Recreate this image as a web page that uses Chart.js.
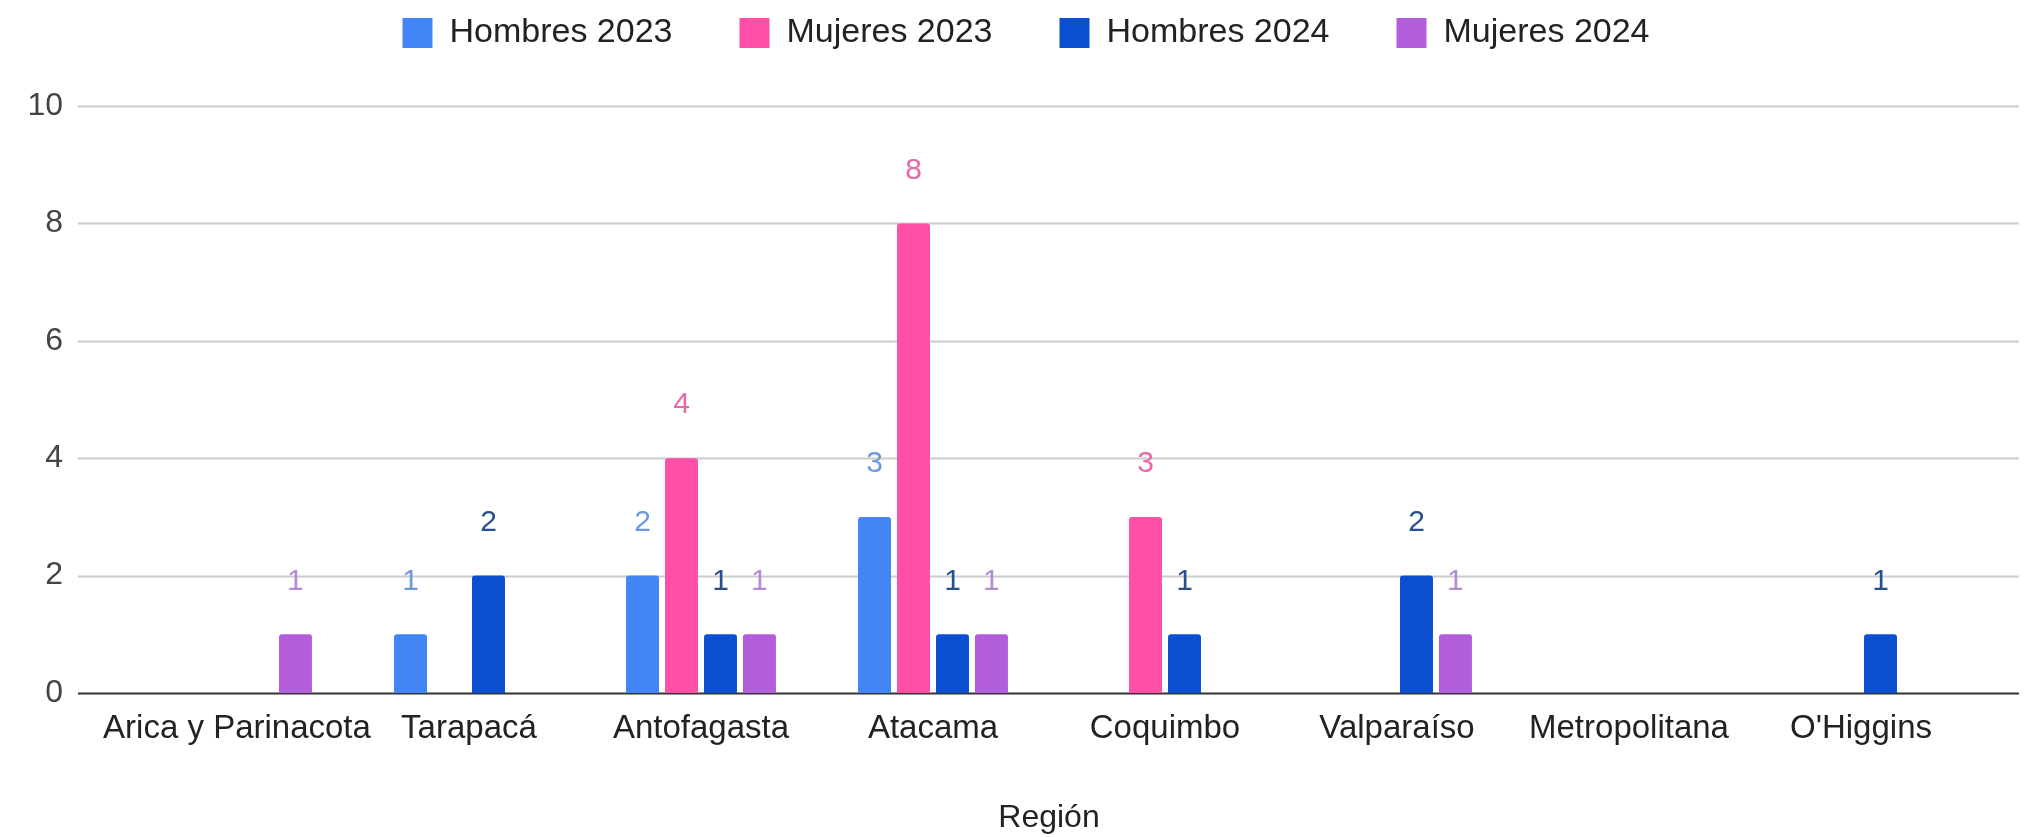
<!DOCTYPE html>
<html>
<head>
<meta charset="utf-8">
<title>Región</title>
<script src="https://cdn.jsdelivr.net/npm/chart.js@4.4.1/dist/chart.umd.min.js"></script>
<style>
    html, body { margin: 0; padding: 0; background: #ffffff; }
    #wrap { width: 2028px; height: 837px; position: relative; }
</style>
</head>
<body>
<div id="wrap"><canvas id="chart"></canvas></div>
<script>
// Data (null = no bar)
const regiones = ["Arica y Parinacota", "Tarapacá", "Antofagasta", "Atacama", "Coquimbo", "Valparaíso", "Metropolitana", "O'Higgins"];
const hombres2023 = [null, 1, 2, 3, null, null, null, null];
const mujeres2023 = [null, null, 4, 8, 3, null, null, null];
const hombres2024 = [null, 2, 1, 1, 1, 2, null, 1];
const mujeres2024 = [1, null, 1, 1, null, 1, null, null];
const yTicks = [0, 2, 4, 6, 8, 10];

Chart.defaults.font.family = "'Liberation Sans', Arial, sans-serif";

// Value labels above each bar
const barLabels = {
    id: "barLabels",
    afterDatasetsDraw(chart) {
        const ctx = chart.ctx;
        ctx.save();
        ctx.font = "30px 'Liberation Sans', Arial, sans-serif";
        ctx.textAlign = "center";
        ctx.textBaseline = "middle";
        chart.data.datasets.forEach((ds, i) => {
            const meta = chart.getDatasetMeta(i);
            meta.data.forEach((bar, j) => {
                const v = ds.data[j];
                if (v === null || v === undefined) return;
                ctx.fillStyle = ds.labelColor;
                ctx.fillText(String(v), bar.x, bar.y - 53);
            });
        });
        ctx.restore();
    }
};

// Horizontal gridlines that run a bit past the category area, like the original
const wideGrid = {
    id: "wideGrid",
    beforeDatasetsDraw(chart) {
        const ctx = chart.ctx;
        const area = chart.chartArea;
        const y = chart.scales.y;
        ctx.save();
        yTicks.forEach((t) => {
            const py = Math.round(y.getPixelForValue(t)) + 0.5;
            ctx.beginPath();
            ctx.moveTo(area.left - 43, py);
            ctx.lineTo(area.right + 42, py);
            ctx.lineWidth = 2;
            ctx.strokeStyle = t === 0 ? "#333333" : "#cccccc";
            ctx.stroke();
        });
        ctx.restore();
    }
};

// Extra room under the legend, and centre it a little to the right
const legendSpace = {
    id: "legendSpace",
    beforeInit(chart) {
        const fit = chart.legend.fit;
        chart.legend.fit = function () {
            fit.bind(chart.legend)();
            this.height += 46;
        };
    },
    afterLayout(chart) {
        chart.legend.left += 24;
        chart.legend.right += 24;
    }
};

new Chart(document.getElementById("chart"), {
    type: "bar",
    data: {
        labels: regiones,
        datasets: [
            { label: "Hombres 2023", data: hombres2023, backgroundColor: "#4285f4", labelColor: "#6d98e0" },
            { label: "Mujeres 2023", data: mujeres2023, backgroundColor: "#ff4fa7", labelColor: "#e868a8" },
            { label: "Hombres 2024", data: hombres2024, backgroundColor: "#0b4fd0", labelColor: "#27508e" },
            { label: "Mujeres 2024", data: mujeres2024, backgroundColor: "#b25edb", labelColor: "#b58bd8" }
        ]
    },
    options: {
        responsive: true,
        maintainAspectRatio: false,
        animation: false,
        datasets: {
            bar: {
                categoryPercentage: 0.672,
                barPercentage: 0.846,
                borderRadius: { topLeft: 3, topRight: 3 },
                borderSkipped: "bottom"
            }
        },
        layout: {
            padding: { left: 27, right: 51, top: -51, bottom: 0 }
        },
        plugins: {
            legend: {
                display: true,
                position: "top",
                labels: {
                    color: "#222222",
                    font: { size: 34 },
                    boxWidth: 30,
                    boxHeight: 30,
                    padding: 67
                }
            },
            tooltip: { enabled: false }
        },
        scales: {
            x: {
                offset: true,
                grid: { display: false, drawTicks: false },
                border: { display: false },
                ticks: {
                    color: "#222222",
                    font: { size: 33 },
                    padding: 16,
                    autoSkip: false,
                    maxRotation: 0,
                    minRotation: 0
                },
                title: {
                    display: true,
                    text: "Región",
                    color: "#222222",
                    font: { size: 32 },
                    padding: { top: 34, bottom: 0 }
                },
                afterFit(scale) {
                    // let the long first label hang over the y axis area
                    scale.paddingLeft = 0;
                    scale.paddingRight = 0;
                }
            },
            y: {
                min: 0,
                max: 10,
                grid: { display: false, drawTicks: false },
                border: { display: false },
                ticks: {
                    stepSize: 2,
                    color: "#444444",
                    font: { size: 32 },
                    padding: 58
                },
                afterFit(scale) {
                    scale.width = 94;
                }
            }
        }
    },
    plugins: [legendSpace, wideGrid, barLabels]
});
</script>
</body>
</html>
